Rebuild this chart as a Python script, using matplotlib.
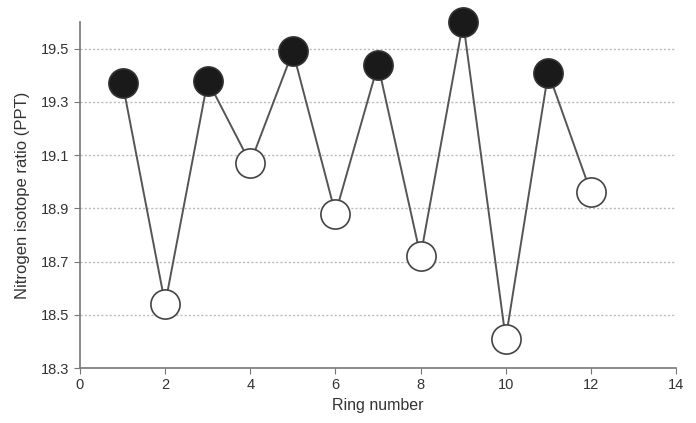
import matplotlib
matplotlib.use("Agg")
import matplotlib.pyplot as plt

ring = [1, 2, 3, 4, 5, 6, 7, 8, 9, 10, 11, 12]
ratio = [19.37, 18.54, 19.38, 19.07, 19.49, 18.88, 19.44, 18.72, 19.60, 18.41, 19.41, 18.96]
xticks = [0, 2, 4, 6, 8, 10, 12, 14]
yticks = [18.3, 18.5, 18.7, 18.9, 19.1, 19.3, 19.5]

plt.rcParams['font.family'] = ['Liberation Sans', 'DejaVu Sans']

fig = plt.figure(figsize=(6.96, 4.23), dpi=100)
ax = fig.add_axes([80/696, 55/423, 596/696, 346/423])

ax.plot(ring, ratio, color='#555555', lw=1.4, zorder=2, clip_on=False)
odd_x = ring[0::2]; odd_y = ratio[0::2]
even_x = ring[1::2]; even_y = ratio[1::2]
ax.plot(odd_x, odd_y, 'o', ms=21, mfc='#1a1a1a', mec='#333333', mew=1.2, ls='none', zorder=3, clip_on=False)
ax.plot(even_x, even_y, 'o', ms=21, mfc='white', mec='#444444', mew=1.2, ls='none', zorder=3, clip_on=False)

ax.set_xlim(0, 14)
ax.set_ylim(18.3, 19.6)
ax.set_xticks(xticks)
ax.set_yticks(yticks)
ax.set_yticklabels([f"{v:.1f}" for v in yticks])

for v in yticks[1:]:
    ax.axhline(v, color='#bbbbbb', lw=1, ls=(0, (1.5, 1.5)), zorder=1)

for s in ['top', 'right']:
    ax.spines[s].set_visible(False)
for s in ['left', 'bottom']:
    ax.spines[s].set_color('#777777')
    ax.spines[s].set_linewidth(1.2)
ax.tick_params(direction='out', length=4, color='#777777', labelsize=10.5, labelcolor='#333333')

ax.set_xlabel('Ring number', fontsize=11.5, color='#333333', labelpad=4)
ax.set_ylabel('Nitrogen isotope ratio (PPT)', fontsize=12, color='#333333', labelpad=8)

fig.savefig('out.png', dpi=100)
